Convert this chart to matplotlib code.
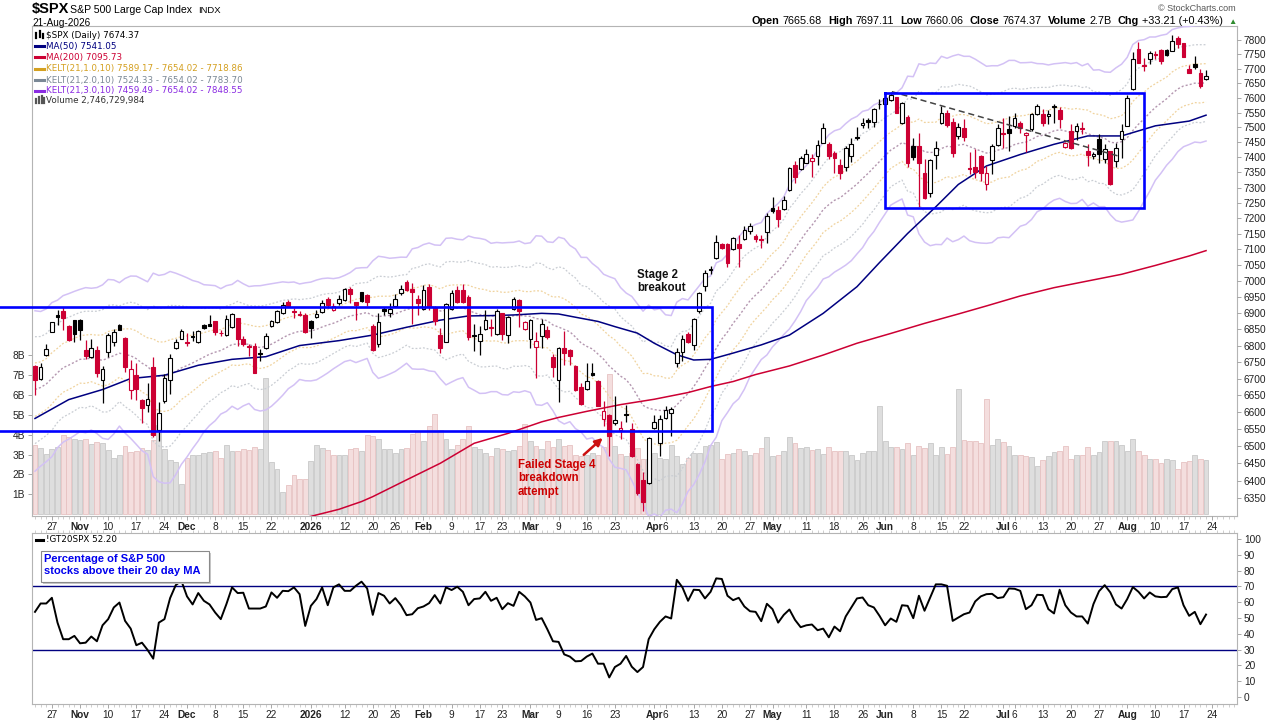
import numpy as np
import pandas as pd
import matplotlib
matplotlib.use("Agg")
import matplotlib.pyplot as plt
from matplotlib.lines import Line2D
from matplotlib.patches import Rectangle
from matplotlib.ticker import NullLocator, NullFormatter

plt.rcParams["font.family"] = ["Liberation Sans", "DejaVu Sans"]

# trading calendar of the chart
first_day = "2025-10-22"
last_day = "2026-08-21"
holidays = ["2025-11-27", "2025-12-25", "2026-01-01", "2026-01-19", "2026-02-16",
            "2026-04-03", "2026-05-25", "2026-06-19", "2026-07-03"]

# daily OHLC
opens = [
    6738, 6698, 6770, 6842, 6895, 6907, 6859, 6877, 6879, 6785,
    6766, 6786, 6695, 6781, 6811, 6864, 6824, 6667, 6712, 6637,
    6622, 6736, 6548, 6632, 6695, 6792, 6821, 6811, 6828, 6811,
    6864, 6866, 6874, 6838, 6831, 6857, 6884, 6821, 6799, 6799,
    6776, 6791, 6861, 6871, 6900, 6935, 6905, 6897, 6895, 6876,
    6887, 6902, 6945, 6910, 6930, 6940, 6974, 6934, 6964, 6956,
    6859, 6805, 6911, 6900, 6921, 6962, 6998, 6974, 6943, 6911,
    6982, 6919, 6832, 6812, 6911, 6972, 6972, 6951, 6831, 6815,
    6850, 6857, 6836, 6899, 6831, 6911, 6941, 6852, 6820, 6795,
    6830, 6848, 6766, 6696, 6792, 6787, 6738, 6676, 6668, 6718,
    6694, 6580, 6592, 6569, 6548, 6595, 6550, 6449, 6401, 6392,
    6553, 6509, 6583, 6597, 6748, 6779, 6835, 6802, 6907, 6984,
    7037, 7072, 7117, 7117, 7101, 7117, 7132, 7160, 7142, 7133,
    7157, 7232, 7227, 7229, 7292, 7375, 7360, 7382, 7387, 7404,
    7449, 7444, 7413, 7375, 7367, 7404, 7467, 7509, 7524, 7518,
    7580, 7579, 7593, 7602, 7513, 7534, 7437, 7437, 7347, 7283,
    7408, 7513, 7547, 7519, 7470, 7499, 7364, 7369, 7404, 7310,
    7391, 7440, 7481, 7493, 7505, 7514, 7474, 7493, 7545, 7545,
    7537, 7572, 7558, 7435, 7487, 7487, 7498, 7419, 7404, 7460,
    7393, 7419, 7388, 7460, 7505, 7629, 7770, 7713, 7735, 7752,
    7764, 7766, 7762, 7808, 7788, 7700, 7715, 7686, 7665.68,
]
highs = [
    6742, 6748, 6804, 6873, 6910, 6920, 6862, 6879, 6881, 6817,
    6819, 6799, 6738, 6839, 6851, 6867, 6826, 6756, 6748, 6639,
    6688, 6766, 6629, 6713, 6773, 6821, 6851, 6839, 6844, 6849,
    6866, 6895, 6876, 6849, 6895, 6900, 6886, 6829, 6804, 6809,
    6789, 6837, 6879, 6910, 6935, 6940, 6915, 6905, 6900, 6879,
    6910, 6940, 6950, 6930, 6955, 6977, 6982, 6935, 6966, 6959,
    6867, 6899, 6920, 6930, 6960, 6987, 7003, 6993, 6956, 6987,
    6991, 6921, 6853, 6930, 6972, 6984, 6991, 6956, 6866, 6861,
    6908, 6880, 6912, 6901, 6890, 6951, 6943, 6876, 6881, 6840,
    6882, 6859, 6773, 6795, 6843, 6789, 6740, 6686, 6748, 6748,
    6696, 6632, 6594, 6648, 6573, 6622, 6568, 6451, 6424, 6526,
    6592, 6592, 6619, 6615, 6792, 6833, 6842, 6885, 6966, 7034,
    7048, 7147, 7119, 7119, 7141, 7146, 7175, 7185, 7150, 7146,
    7218, 7268, 7240, 7272, 7368, 7386, 7403, 7427, 7409, 7458,
    7516, 7452, 7422, 7394, 7436, 7464, 7501, 7533, 7530, 7564,
    7596, 7616, 7621, 7604, 7584, 7542, 7464, 7481, 7394, 7394,
    7453, 7573, 7560, 7533, 7516, 7527, 7418, 7427, 7406, 7372,
    7443, 7511, 7533, 7538, 7548, 7522, 7485, 7548, 7580, 7561,
    7558, 7580, 7567, 7452, 7511, 7515, 7518, 7445, 7418, 7477,
    7443, 7421, 7449, 7511, 7610, 7759, 7793, 7738, 7762, 7762,
    7767, 7768, 7816, 7814, 7790, 7712, 7744, 7700, 7697.11,
]
lows = [
    6652, 6696, 6768, 6840, 6864, 6849, 6815, 6811, 6817, 6760,
    6763, 6706, 6627, 6766, 6799, 6847, 6720, 6639, 6637, 6568,
    6599, 6526, 6514, 6627, 6655, 6789, 6819, 6799, 6814, 6809,
    6851, 6859, 6831, 6829, 6829, 6855, 6799, 6799, 6768, 6716,
    6753, 6789, 6857, 6869, 6898, 6918, 6884, 6890, 6839, 6824,
    6884, 6900, 6915, 6905, 6925, 6938, 6930, 6878, 6935, 6921,
    6782, 6797, 6894, 6887, 6919, 6957, 6968, 6865, 6893, 6909,
    6909, 6862, 6776, 6810, 6909, 6930, 6930, 6816, 6782, 6770,
    6848, 6828, 6831, 6816, 6808, 6909, 6856, 6849, 6792, 6702,
    6794, 6821, 6706, 6631, 6741, 6741, 6664, 6622, 6666, 6708,
    6617, 6558, 6470, 6563, 6521, 6570, 6468, 6360, 6314, 6390,
    6549, 6470, 6580, 6528, 6734, 6752, 6807, 6785, 6901, 6970,
    7022, 7069, 7101, 7045, 7099, 7043, 7130, 7150, 7125, 7104,
    7121, 7218, 7171, 7227, 7290, 7316, 7358, 7380, 7334, 7374,
    7447, 7393, 7347, 7329, 7353, 7385, 7458, 7496, 7496, 7502,
    7561, 7576, 7590, 7547, 7511, 7366, 7391, 7238, 7262, 7270,
    7361, 7511, 7502, 7400, 7462, 7454, 7343, 7332, 7321, 7291,
    7346, 7438, 7429, 7420, 7499, 7482, 7417, 7488, 7542, 7505,
    7512, 7516, 7499, 7432, 7428, 7458, 7479, 7370, 7393, 7380,
    7380, 7309, 7366, 7396, 7503, 7627, 7719, 7692, 7715, 7735,
    7715, 7745, 7760, 7773, 7740, 7684, 7698, 7634, 7660.06,
]
closes = [
    6696, 6735, 6788, 6871, 6887, 6884, 6817, 6836, 6847, 6768,
    6794, 6716, 6728, 6831, 6842, 6849, 6736, 6730, 6669, 6612,
    6639, 6531, 6597, 6703, 6763, 6811, 6846, 6809, 6827, 6844,
    6854, 6861, 6841, 6837, 6881, 6898, 6821, 6804, 6797, 6718,
    6773, 6829, 6874, 6905, 6925, 6922, 6902, 6895, 6842, 6854,
    6898, 6930, 6925, 6922, 6945, 6974, 6958, 6925, 6938, 6935,
    6787, 6871, 6907, 6911, 6945, 6974, 6972, 6964, 6932, 6972,
    6919, 6876, 6793, 6928, 6962, 6935, 6933, 6825, 6829, 6836,
    6877, 6855, 6905, 6834, 6887, 6943, 6905, 6873, 6877, 6813,
    6865, 6825, 6735, 6792, 6777, 6769, 6666, 6625, 6694, 6711,
    6619, 6602, 6528, 6575, 6553, 6590, 6470, 6365, 6339, 6524,
    6570, 6580, 6606, 6610, 6779, 6820, 6812, 6882, 6961, 7026,
    7033, 7122, 7104, 7058, 7135, 7104, 7162, 7175, 7134, 7130,
    7207, 7224, 7197, 7258, 7364, 7334, 7397, 7411, 7397, 7441,
    7497, 7404, 7398, 7349, 7430, 7444, 7463, 7516, 7518, 7561,
    7578, 7599, 7610, 7549, 7582, 7380, 7402, 7382, 7265, 7391,
    7430, 7550, 7508, 7415, 7500, 7468, 7361, 7351, 7349, 7347,
    7438, 7497, 7478, 7480, 7533, 7499, 7482, 7545, 7572, 7514,
    7545, 7569, 7529, 7447, 7432, 7506, 7494, 7407, 7411, 7412,
    7426, 7313, 7432, 7488, 7599, 7733, 7721, 7709, 7756, 7748,
    7727, 7747, 7797, 7785, 7742, 7686, 7705, 7641.16, 7674.37,
]
# daily volume in billions of shares
volumes_b = [
    3.46, 3.31, 3.01, 3.26, 3.38, 3.96, 3.88, 3.76, 3.71, 3.76,
    3.55, 3.65, 3.60, 3.21, 2.81, 2.96, 3.43, 3.14, 3.18, 3.35,
    3.23, 3.73, 4.50, 3.30, 2.70, 2.60, 1.50, 2.80, 3.00, 3.00,
    3.10, 3.15, 3.20, 2.80, 3.50, 3.20, 3.20, 3.30, 3.25, 3.40,
    3.30, 6.86, 2.62, 2.29, 1.12, 1.47, 1.95, 1.75, 1.79, 2.68,
    3.48, 3.31, 3.23, 2.98, 3.00, 3.00, 3.26, 3.34, 3.20, 4.00,
    3.93, 3.80, 3.30, 3.26, 3.10, 3.26, 3.35, 4.05, 4.20, 3.66,
    4.43, 5.05, 4.24, 3.80, 3.26, 3.50, 3.76, 4.43, 3.40, 3.30,
    3.08, 2.90, 3.35, 3.30, 3.20, 3.25, 3.43, 4.55, 3.67, 3.45,
    3.26, 3.67, 3.38, 3.76, 3.43, 3.50, 2.95, 2.92, 2.95, 3.10,
    3.00, 3.40, 7.05, 3.43, 3.05, 2.92, 3.10, 3.34, 2.76, 2.76,
    3.10, 2.80, 2.76, 3.50, 2.92, 2.50, 2.84, 3.10, 3.10, 3.43,
    3.50, 3.63, 2.76, 3.05, 3.10, 3.30, 3.20, 2.95, 3.09, 3.33,
    3.90, 2.92, 2.97, 3.20, 3.87, 3.60, 3.33, 3.40, 3.24, 3.30,
    3.05, 3.36, 3.16, 3.20, 3.20, 2.97, 2.72, 3.09, 3.16, 3.20,
    5.45, 3.67, 3.40, 3.40, 3.30, 3.57, 2.95, 3.45, 3.33, 3.57,
    3.00, 3.36, 3.05, 3.36, 6.30, 3.71, 3.66, 3.66, 3.60, 5.80,
    3.50, 3.80, 3.63, 3.43, 3.00, 2.98, 2.93, 2.85, 2.40, 2.74,
    2.90, 3.13, 3.20, 3.43, 2.78, 2.95, 3.00, 3.38, 3.00, 3.13,
    3.68, 3.68, 3.68, 3.46, 3.20, 3.76, 3.16, 2.98, 2.78, 2.78,
    2.56, 2.78, 2.74, 2.28, 2.61, 2.68, 3.00, 2.78, 2.747,
]
# !GT20SPX - percent of S&P 500 stocks above their 20 day MA
pct_above_20ma = [
    53.9, 59.2, 59.2, 62.8, 47.1, 36.6, 36.6, 38.7, 34.0, 34.4,
    38.3, 35.3, 45.4, 49.3, 56.7, 59.8, 48.2, 43.3, 32.8, 34.4,
    29.8, 24.3, 47.1, 49.3, 62.6, 70.8, 73.6, 63.7, 58.6, 65.8,
    60.9, 58.6, 53.5, 49.3, 58.8, 69.4, 65.8, 66.0, 56.0, 56.0,
    56.0, 57.3, 66.2, 62.8, 67.2, 67.0, 69.4, 65.1, 45.0, 57.7,
    62.0, 69.4, 58.1, 69.4, 71.3, 67.2, 67.2, 70.4, 73.0, 68.7,
    52.0, 65.8, 64.1, 59.2, 62.6, 58.1, 51.8, 52.4, 56.2, 57.3,
    59.4, 64.5, 59.2, 69.4, 67.7, 69.8, 66.6, 58.1, 62.0, 62.4,
    66.6, 60.9, 62.8, 55.6, 59.4, 57.7, 66.6, 63.7, 59.8, 48.8,
    49.9, 42.9, 35.3, 34.9, 27.0, 25.6, 22.6, 22.8, 25.6, 27.5,
    21.1, 21.1, 12.4, 19.0, 21.1, 26.0, 19.2, 15.8,
    19.0, 36.6, 42.9, 47.6, 51.0, 49.7, 74.2, 69.4, 60.9, 67.9,
    67.7, 62.4, 66.6, 75.1, 74.7, 64.1, 61.3, 62.8, 57.3, 54.3,
    53.9, 48.0, 59.0, 55.6, 47.1, 52.0, 55.4, 48.8, 44.2, 45.4,
    45.9, 42.3, 43.3, 37.8, 44.6, 41.6, 51.0, 56.7, 62.4, 63.0,
    58.1, 56.7, 51.4, 45.4, 49.7, 47.6, 58.1, 57.7, 49.9, 64.1,
    54.6, 63.0, 71.3, 71.3, 70.4, 48.2, 50.3, 52.4, 53.5, 60.5,
    63.7, 65.1, 65.3, 62.6, 63.2, 68.7, 68.5, 67.2, 55.6, 58.1,
    64.7, 64.5, 55.6, 52.9, 67.9, 58.1, 53.5, 51.0, 51.0, 46.5,
    58.8, 67.0, 70.8, 66.2, 58.6, 56.0, 62.0, 69.6, 66.6, 62.4,
    66.2, 63.7, 63.2, 63.4, 68.3, 69.4, 58.1, 51.4, 53.9, 46.1,
    52.2,
]

# moving averages read at sample days (trading day number, value)
ma50_day = [0, 6, 12, 17, 23, 29, 35, 41, 47, 54, 60, 66, 72, 77, 81, 85, 90, 93, 96, 100,
            103, 107, 110, 114, 117, 120, 124, 129, 134, 140, 146, 150, 155, 160, 164, 169,
            175, 181, 187, 193, 199, 205, 208]
ma50_val = [6581, 6637, 6667, 6700, 6710, 6740, 6758, 6766, 6800, 6815, 6832, 6856, 6878, 6891,
            6892, 6894, 6899, 6897, 6887, 6874, 6858, 6838, 6807, 6772, 6756, 6758, 6777, 6802,
            6832, 6899, 6982, 7058, 7151, 7237, 7310, 7371, 7409, 7443, 7471, 7471, 7505, 7521,
            7541]
ma200_day = [45, 49, 54, 58, 60, 66, 72, 78, 84, 90, 93, 98, 104, 110, 116, 120, 124, 128, 134,
             140, 146, 152, 158, 164, 169, 175, 181, 187, 193, 199, 205, 208]
ma200_val = [6285, 6298, 6318, 6340, 6354, 6402, 6450, 6508, 6537, 6571, 6584, 6602, 6622, 6638,
             6658, 6676, 6691, 6712, 6738, 6771, 6807, 6837, 6868, 6897, 6922, 6953, 6979, 7000,
             7021, 7049, 7079, 7096]

# indicator state just before the first visible bar
prev_close_start = 6725.0
ema_start = 6667.0
atr_start = 80.0

tick_dates = ["2025-10-27", "2025-11-03", "2025-11-10", "2025-11-17", "2025-11-24", "2025-12-01",
              "2025-12-08", "2025-12-15", "2025-12-22", "2026-01-02", "2026-01-12", "2026-01-20",
              "2026-01-26", "2026-02-02", "2026-02-09", "2026-02-17", "2026-02-23", "2026-03-02",
              "2026-03-09", "2026-03-16", "2026-03-23", "2026-04-01", "2026-04-06", "2026-04-13",
              "2026-04-20", "2026-04-27", "2026-05-01", "2026-05-11", "2026-05-18", "2026-05-26",
              "2026-06-01", "2026-06-08", "2026-06-15", "2026-06-22", "2026-07-01", "2026-07-06",
              "2026-07-13", "2026-07-20", "2026-07-27", "2026-08-03", "2026-08-10", "2026-08-17",
              "2026-08-24"]
tick_text = ["27", "Nov", "10", "17", "24", "Dec", "8", "15", "22", "2026", "12", "20", "26",
             "Feb", "9", "17", "23", "Mar", "9", "16", "23", "Apr", "6", "13", "20", "27", "May",
             "11", "18", "26", "Jun", "8", "15", "22", "Jul", "6", "13", "20", "27", "Aug", "10",
             "17", "24"]
bold_ticks = {"Nov", "Dec", "2026", "Feb", "Mar", "Apr", "May", "Jun", "Jul", "Aug"}

price_ticks = list(range(6350, 7801, 50))
vol_ticks = list(range(1, 9))
pct_ticks = list(range(0, 101, 10))

RED = "#cc0033"
NAVY = "#000080"
BLUE = "#0000ff"

# ---- derived series ----
o = np.array(opens, float)
h = np.array(highs, float)
l = np.array(lows, float)
c = np.array(closes, float)
n = len(c)
x = np.arange(n)

days = pd.bdate_range(first_day, "2026-08-31", freq="C", holidays=holidays)
tick_pos = [days.get_loc(pd.Timestamp(d)) for d in tick_dates]

prev = np.concatenate([[prev_close_start], c[:-1]])
up = c >= prev
candle_col = np.where(up, "black", RED)

k = 2.0 / 22.0
ema = np.empty(n)
ema[0] = ema_start
for i in range(1, n):
    ema[i] = ema[i - 1] + k * (c[i] - ema[i - 1])
tr = np.maximum(h - l, np.maximum(np.abs(h - prev), np.abs(l - prev)))
atr = np.empty(n)
atr[0] = atr_start
for i in range(1, n):
    atr[i] = (atr[i - 1] * 9 + tr[i]) / 10


def fx(px):
    return px / 1280


def fy(py):
    return 1 - py / 720


fig = plt.figure(figsize=(12.8, 7.2), dpi=100)
fig.patch.set_facecolor("white")

rect_main = [fx(32), fy(516), fx(1237) - fx(32), fy(26) - fy(516)]
rect_low = [fx(32), fy(704), fx(1237) - fx(32), fy(533) - fy(704)]
xlim = (-0.53, 213.5)

ax_vol = fig.add_axes(rect_main)
ax = fig.add_axes(rect_main)
ax.patch.set_visible(False)
ax_low = fig.add_axes(rect_low)

# volume overlay
vol_face = np.where(up, "#dedede", "#f4dede")
vol_edge = np.where(up, "#c8c8c8", "#e6c2c2")
ax_vol.bar(x, volumes_b, width=0.86, color=vol_face, edgecolor=vol_edge, linewidth=0.6)
ax_vol.set_xlim(xlim)
ax_vol.set_ylim(-0.1, 24.6)
ax_vol.set_yticks(vol_ticks)
ax_vol.set_yticklabels([f"{v}B" for v in vol_ticks])
ax_vol.tick_params(axis="y", left=True, right=False, labelleft=True, length=3, width=0.6,
                   color="#999999", pad=2, labelsize=7.3, labelcolor="#222222")
ax_vol.tick_params(axis="x", which="both", bottom=False, labelbottom=False)
for sp in ax_vol.spines.values():
    sp.set_color("#b4b4b4")
    sp.set_linewidth(0.8)

# price panel
ax.set_yscale("log")
dot = (0, (1.5, 1.5))
for mult, col, ls, lw in [(1.0, "#f0d39e", dot, 0.9), (2.0, "#c9cdd3", dot, 0.9),
                          (3.0, "#d3c1f5", "-", 1.1)]:
    ax.plot(x, ema + mult * atr, color=col, ls=ls, lw=lw, zorder=2)
    ax.plot(x, ema - mult * atr, color=col, ls=ls, lw=lw, zorder=2)
ax.plot(x, ema, color="#b497b0", ls=dot, lw=1.0, zorder=2)
ax.plot(ma200_day, ma200_val, color=RED, lw=1.1, zorder=3)
ax.plot(ma50_day, ma50_val, color=NAVY, lw=1.1, zorder=3)

ax.vlines(x, l, h, colors=candle_col, lw=0.9, zorder=5)
body_lo = np.minimum(o, c)
body_h = np.maximum(np.abs(c - o), 0.8)
body_face = [cc if cl < op else "white" for cc, cl, op in zip(candle_col, c, o)]
ax.bar(x, body_h, bottom=body_lo, width=0.66, color=body_face, edgecolor=candle_col,
       linewidth=0.8, zorder=6)

ax.set_xlim(xlim)
ax.set_ylim(6299, 7849)
ax.set_yticks(price_ticks)
ax.set_yticklabels([str(v) for v in price_ticks])
ax.yaxis.set_minor_locator(NullLocator())
ax.yaxis.set_minor_formatter(NullFormatter())
ax.yaxis.tick_right()
ax.tick_params(axis="y", which="major", length=3, width=0.6, color="#999999", pad=2,
               labelsize=7.3, labelcolor="#222222")
ax.set_xticks(tick_pos)
ax.set_xticklabels(tick_text)
ax.set_xticks(np.arange(0, 214), minor=True)
ax.tick_params(axis="x", which="major", length=3, width=0.6, color="#999999", pad=1,
               labelsize=7.3, labelcolor="#222222")
ax.tick_params(axis="x", which="minor", length=2, width=0.5, color="#bbbbbb")
for sp in ax.spines.values():
    sp.set_visible(False)

# annotation boxes and trend line
box1 = dict(left=-6.2, right=120.2, bottom=6545, top=6918)
ax.plot([box1["left"], box1["right"], box1["right"], box1["left"]],
        [box1["top"], box1["top"], box1["bottom"], box1["bottom"]],
        color=BLUE, lw=1.9, zorder=8, clip_on=False, solid_joinstyle="miter")
box2 = dict(left=151.0, right=197.0, bottom=7234, top=7616)
ax.plot([box2["left"], box2["right"], box2["right"], box2["left"], box2["left"]],
        [box2["top"], box2["top"], box2["bottom"], box2["bottom"], box2["top"]],
        color=BLUE, lw=1.9, zorder=8, solid_joinstyle="miter")
ax.plot([152.2, 192.4], [7621, 7404], color="#444444", ls=(0, (4, 2.5)), lw=1.1, zorder=7)
ax.annotate("", xy=(101.2, 6529), xytext=(97.1, 6469),
            arrowprops=dict(arrowstyle="-|>", color="#cc1111", lw=1.8, mutation_scale=11),
            zorder=9)
fig.text(fx(637), fy(269), "Stage 2\nbreakout", fontsize=8.3, fontweight="bold",
         color="#111111", va="top", ha="left", linespacing=1.15)
fig.text(fx(518), fy(459), "Failed Stage 4\nbreakdown\nattempt", fontsize=8.3,
         fontweight="bold", color="#cc0000", va="top", ha="left", linespacing=1.15)

# lower panel
ax_low.plot(x, pct_above_20ma, color="black", lw=1.4, zorder=3)
ax_low.axhline(70, color=NAVY, lw=1.0, zorder=2)
ax_low.axhline(30, color=NAVY, lw=1.0, zorder=2)
ax_low.set_xlim(xlim)
ax_low.set_ylim(-4.4, 103.8)
ax_low.set_yticks(pct_ticks)
ax_low.set_yticklabels([str(v) for v in pct_ticks])
ax_low.yaxis.tick_right()
ax_low.tick_params(axis="y", length=3, width=0.6, color="#999999", pad=2, labelsize=7.3,
                   labelcolor="#222222")
ax_low.set_xticks(tick_pos)
ax_low.set_xticklabels(tick_text)
ax_low.set_xticks(np.arange(0, 214), minor=True)
ax_low.tick_params(axis="x", which="major", length=3, width=0.6, color="#999999", pad=1,
                   labelsize=7.3, labelcolor="#222222")
ax_low.tick_params(axis="x", which="minor", top=True, bottom=True, length=2, width=0.5,
                   color="#bbbbbb")
for sp in ax_low.spines.values():
    sp.set_color("#b4b4b4")
    sp.set_linewidth(0.8)

for a in (ax, ax_low):
    for lbl in a.get_xticklabels():
        if lbl.get_text() in bold_ticks:
            lbl.set_fontweight("bold")

# header
fig.text(fx(32), fy(13), r"\$SPX", fontsize=10.5, fontweight="bold", va="baseline")
fig.text(fx(70), fy(13), "S&P 500 Large Cap Index", fontsize=7.6, va="baseline")
fig.text(fx(198), fy(13), "INDX", fontsize=6.8, va="baseline")
fig.text(fx(32), fy(26), "21-Aug-2026", fontsize=7.2, va="baseline")
fig.text(fx(1236), fy(11), "\u00a9 StockCharts.com", fontsize=6.5, color="#555555",
         ha="right", va="baseline")

renderer = fig.canvas.get_renderer()
chg = c[-1] - c[-2]
chg_pct = chg / c[-2] * 100
header = [("Open", True), (f"{o[-1]:.2f}", False), ("High", True), (f"{h[-1]:.2f}", False),
          ("Low", True), (f"{l[-1]:.2f}", False), ("Close", True), (f"{c[-1]:.2f}", False),
          ("Volume", True), (f"{volumes_b[-1]:.1f}B", False), ("Chg", True),
          (f"+{chg:.2f} (+{chg_pct:.2f}%)", False)]
xpos = 752
for txt, bold in header:
    t = fig.text(fx(xpos), fy(24), txt, fontsize=7.8,
                 fontweight="bold" if bold else "normal", va="baseline")
    w = t.get_window_extent(renderer=renderer).width
    xpos += w + (3 if bold else 6)
fig.text(fx(xpos), fy(24), "\u25b2", fontsize=6, color="#2e8b2e", va="baseline")

# price legend
legend_rows = [
    (r"\$SPX (Daily) 7674.37", "black", "candle"),
    ("MA(50) 7541.05", NAVY, "line"),
    ("MA(200) 7095.73", RED, "line"),
    ("KELT(21,1.0,10) 7589.17 - 7654.02 - 7718.86", "#d4a020", "line"),
    ("KELT(21,2.0,10) 7524.33 - 7654.02 - 7783.70", "#7a8896", "line"),
    ("KELT(21,3.0,10) 7459.49 - 7654.02 - 7848.55", "#8a2be2", "line"),
    ("Volume 2,746,729,984", "#333333", "bars"),
]
row_y = [35, 46, 57.3, 68.7, 80, 90.7, 100.3]
for (txt, col, icon), yy in zip(legend_rows, row_y):
    fig.text(fx(46), fy(yy), txt, fontsize=6.3, color=col, va="center", ha="left",
             family="DejaVu Sans")
    if icon == "line":
        fig.add_artist(Line2D([fx(35), fx(44)], [fy(yy), fy(yy)], color=col, lw=2.2))
    elif icon == "candle":
        for xx, y0, y1 in [(36, yy + 3, yy - 2), (39.5, yy + 2, yy - 4), (43, yy + 3, yy - 1)]:
            fig.add_artist(Line2D([fx(xx), fx(xx)], [fy(y0), fy(y1)], color="black", lw=1.6))
    else:
        for xx, y0, y1 in [(35.5, yy + 3, yy - 1), (38.5, yy + 3, yy - 3), (41.5, yy + 3, yy - 4),
                           (44, yy + 3, yy - 2)]:
            fig.add_artist(Line2D([fx(xx), fx(xx)], [fy(y0), fy(y1)], color="#555555", lw=1.6))

# lower panel legend and note box
fig.add_artist(Line2D([fx(36), fx(43)], [fy(539.5), fy(539.5)], color="black", lw=2.2))
fig.text(fx(46), fy(539.5), f"!GT20SPX {pct_above_20ma[-1]:.2f}", fontsize=6.3,
         va="center", family="DejaVu Sans")
fig.add_artist(Rectangle((fx(43), fy(584)), fx(211) - fx(43), fy(553) - fy(584),
                         transform=fig.transFigure, facecolor="#c8c8c8", edgecolor="none"))
fig.add_artist(Rectangle((fx(41), fy(582)), fx(209) - fx(41), fy(551) - fy(582),
                         transform=fig.transFigure, facecolor="white", edgecolor="#8a8a8a",
                         lw=0.8))
fig.text(fx(44), fy(554), "Percentage of S&P 500\nstocks above their 20 day MA", fontsize=8,
         fontweight="bold", color="#0000ee", va="top", ha="left", linespacing=1.2)

fig.savefig("out.png", dpi=100, facecolor="white")
